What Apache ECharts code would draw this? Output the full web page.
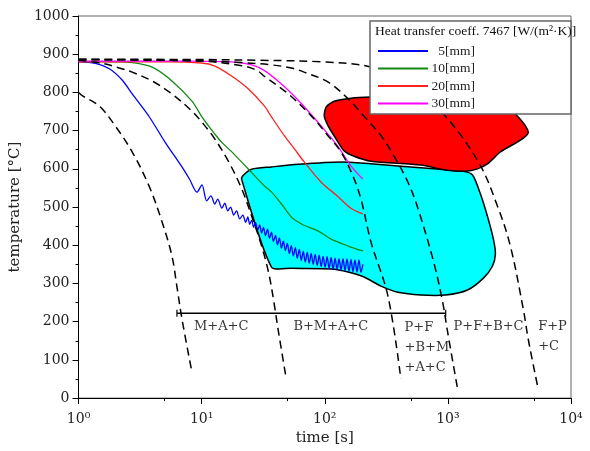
<!DOCTYPE html>
<html><head><meta charset="utf-8">
<script src="https://cdn.jsdelivr.net/npm/echarts@6/dist/echarts.min.js"></script>
<style>html,body{margin:0;padding:0;background:#fff}#c{width:590px;height:451px}</style>
</head><body><div id="c"></div>
<script>
// ---- data: [time s, temperature °C] ----
const blue5 = [[1,880],[1.37,876],[1.78,862],[2.27,832],[2.73,796],[3.74,737],[5.04,670],[6.92,605],[8.0,572],[9.16,539],
[10.05,558],[11.0,516],[11.9,529],[12.8,508],[13.5,521],[14.6,497],[15.4,510],[16.3,490],[17.2,500],[18.2,479],[19.2,490],[20.4,469],[21.6,479],
[22.8,460],[23.7,474],[24.6,455],[25.5,466],[26.4,447],[27.4,459],[28.5,439],[29.6,453],[30.7,432],[31.8,447],[33.0,425],[34.3,442],[35.6,418],[36.9,434],[38.3,410],[39.8,426],[41.3,401],[42.8,419],[44.5,392],[46.1,411],[47.9,386],[49.7,405],[51.6,378],[53.5,399],[55.6,372],[57.7,394],[59.8,366],[62.1,389],[64.5,360],[66.9,384],[69.4,356],[72.1,381],[74.8,353],[77.6,379],[80.5,350],[83.6,376],[86.8,347],[90.1,374],[93.5,344],[97.0,371],[100.7,342],[104.5,370],[108.5,339],[112.6,368],[116.8,337],[121.3,366],[125.9,336],[130.6,365],[135.6,335],[140.7,365],[146.0,333],[151.6,364],[157.3,332],[163.3,363],[169.5,331],[175.9,362],[182.6,330],[189.5,362],[196.7,329],[204,350]];
const green10 = [[1,881],[2,880],[2.73,878],[3.96,866],[5.74,830],[8.34,777],[10.05,736],[11.4,712],[12.8,691],[14.5,670],[17.5,645],[24,599],[32.4,555],[37,539],[44.5,508],[53.5,474],[60,462],[67,453],[88.6,437],[112.6,416],[155,398],[204,385]];
const red20 = [[1,880],[5,880],[10,877],[12.8,869],[17.5,843],[24,809],[32.4,764],[36.9,736],[47.1,686],[56.7,652],[68.1,618],[93.5,565],[128.5,527],[163,497],[204,482]];
const magenta30 = [[1,882],[7.3,882],[17.5,880],[25.4,872],[32.4,857],[44.5,822],[53.5,798],[64.5,771],[93.5,712],[127,660],[163,608],[204,573]];

const dash1 = [[1,800],[1.08,791],[1.48,764],[1.99,712],[2.73,644],[3.74,555],[4.77,461],[5.74,372],[6.31,290],[6.92,207],[8.34,68]];
const dash2 = [[1,884],[1.56,876],[2.14,864],[2.73,853],[3.96,830],[5.74,796],[8.34,751],[10.05,722],[12.5,683],[16.6,618],[21.2,547],[25.5,476],[30.7,398],[34.9,330],[38.3,259],[42.1,173],[48.7,50]];
const dash3 = [[1,886],[9.5,882],[21.2,870],[28,858],[32.4,842],[50.6,796],[78,738],[106.6,686],[135.6,644],[169.5,581],[196.7,521],[237.6,408],[326,267],[415,50]];
const dash4 = [[1,886],[9.5,883],[21,878],[36.9,872],[53.5,864],[68.1,853],[106.6,827],[155,783],[208,738],[288,686],[364,634],[474,565],[573,495],[767,356],[907,251],[995,173],[1199,24]];
const dash5 = [[1,887],[10,886],[30,884],[93.5,880],[237.6,866],[500,815],[924,743],[1771,618],[2525,503],[3216,398],[4096,233],[4496,154],[5412,24]];

const cyanRegion = [[21.9,584],[25.5,599],[36.9,605],[61.1,612],[135.9,618],[237.6,613],[415,607],[767,600],[1316,594],[1585,584],[1839,534],[2095,476],[2343,416],[2432,377],[2299,345],[1945,314],[1444,283],[959,270],[602,270],[393,277],[286,293],[208.5,317],[154.9,330],[112.9,338],[53.6,340],[36.9,343],[21.1,573]];
const redRegion = [[102.8,762],[119.4,777],[163.7,785],[237.6,788],[602,791],[2432,783],[4494,696],[2669,644],[2095,613],[1739,600],[1391,594],[959,597],[602,610],[237.6,620],[173,633],[143.8,647],[119.4,686],[106.7,712],[99.1,738]];

const phaseLine = [[6.3,222],[960,222]];
const phaseLabels = [['M+A+C',8.66,186],['B+M+A+C',55.6,186],['P+F\n+B+M\n+A+C',445,133],['P+F+B+C',1113,186],['F+P\n+C',5412,161]];

const seriesNames = ['5[mm]','10[mm]','20[mm]','30[mm]'];
const xMinorTicks = [5,50,500,5000];
const legendTitle = 'Heat transfer coeff. 7467 [W/(m²·K)]';

// ---- chart ----
const SERIF = '"DejaVu Serif", serif';
const LEG = '"Liberation Serif", serif';
const sup = ['⁰','¹','²','³','⁴'];
const chart = echarts.init(document.getElementById('c'));

function polyRender(points, fill){
  return function(params, api){
    if (params.dataIndex !== 0) return null;
    const pts = points.map(p => api.coord(p));
    return {type:'polygon', shape:{points:pts, smooth:0.25},
      style:{fill:fill, stroke:'#000', lineWidth:1.5}};
  };
}
function curve(name, data, color){
  return {name:name, type:'line', data:data, symbol:'none', smooth:0.3, z:3,
    lineStyle:{color:color, width:1.3}, itemStyle:{color:color}};
}
function dashed(data){
  return {type:'line', data:data, symbol:'none', smooth:0.35, z:4, silent:true,
    lineStyle:{color:'#000', width:1.5, type:[8,5]}};
}

const option = {
  animation:false,
  backgroundColor:'#fff',
  grid:{left:76, right:19, top:16, bottom:51, show:true, borderColor:'#666', borderWidth:1},
  xAxis:[{
    type:'log', logBase:10, min:1, max:10000,
    name:'time [s]', nameLocation:'middle', nameGap:31,
    nameTextStyle:{fontFamily:SERIF, fontSize:15, color:'#222'},
    axisLine:{lineStyle:{color:'#000', width:1}},
    axisTick:{length:6, lineStyle:{color:'#000'}},
    axisLabel:{formatter:v => '10' + sup[Math.round(Math.log10(v))], fontFamily:SERIF, fontSize:14, color:'#222', margin:14},
    splitLine:{show:false}
  },{
    type:'log', logBase:10, min:1, max:10000, position:'bottom',
    axisLine:{show:false}, axisLabel:{show:false}, splitLine:{show:false},
    axisTick:{show:true, length:3, customValues:xMinorTicks, lineStyle:{color:'#000'}}
  }],
  yAxis:{
    type:'value', min:0, max:1000, interval:100,
    name:'temperature [°C]', nameLocation:'middle', nameGap:44, nameRotate:90,
    nameTextStyle:{fontFamily:SERIF, fontSize:15, color:'#222'},
    axisLine:{show:true, lineStyle:{color:'#000', width:1}},
    axisTick:{show:true, length:6, lineStyle:{color:'#000'}},
    minorTick:{show:true, splitNumber:2, length:3, lineStyle:{color:'#000'}},
    axisLabel:{formatter:v => String(v), fontFamily:SERIF, fontSize:14, color:'#222', margin:9},
    splitLine:{show:false}
  },
  legend:{
    orient:'vertical', left:378, top:44, itemWidth:50, itemHeight:2, itemGap:3.5, padding:0, z:60,
    icon:'rect',
    data:seriesNames,
    formatter:n => '{a|' + n + '}',
    textStyle:{fontFamily:LEG, fontSize:13, color:'#222',
      rich:{a:{width:42, height:14, lineHeight:14, align:'right', fontFamily:LEG, fontSize:13.5, color:'#222'}}}
  },
  graphic:[
    {type:'rect', z:50, shape:{x:370, y:21, width:201, height:93},
      style:{fill:'#fff', stroke:'#666', lineWidth:1.5}},
    {type:'text', z:51, x:375, y:24,
      style:{text:legendTitle, font:'13.5px "Liberation Serif"', fill:'#111'}}
  ],
  series:[
    {type:'custom', data:cyanRegion, renderItem:polyRender(cyanRegion,'#00ffff'), z:1, silent:true},
    {type:'custom', data:redRegion, renderItem:polyRender(redRegion,'#ff0000'), z:1, silent:true},
    curve(seriesNames[0], blue5, '#0000ff'),
    curve(seriesNames[1], green10, '#128a12'),
    curve(seriesNames[2], red20, '#ff2020'),
    curve(seriesNames[3], magenta30, '#ff00ff'),
    dashed(dash1), dashed(dash2), dashed(dash3), dashed(dash4), dashed(dash5),
    {type:'line', data:phaseLine, z:4, symbol:'rect', symbolSize:[1.2,7], showSymbol:true,
      lineStyle:{color:'#000', width:1.5}, itemStyle:{color:'#000'}},
    {type:'scatter', symbolSize:0, z:5, silent:true,
      data:phaseLabels.map(d => ({name:d[0], value:[d[1], d[2]]})),
      label:{show:true, position:'right', distance:0, formatter:p => p.name,
        fontFamily:SERIF, fontSize:13, color:'#000', lineHeight:20, align:'left'}}
  ]
};
chart.setOption(option);
</script></body></html>
